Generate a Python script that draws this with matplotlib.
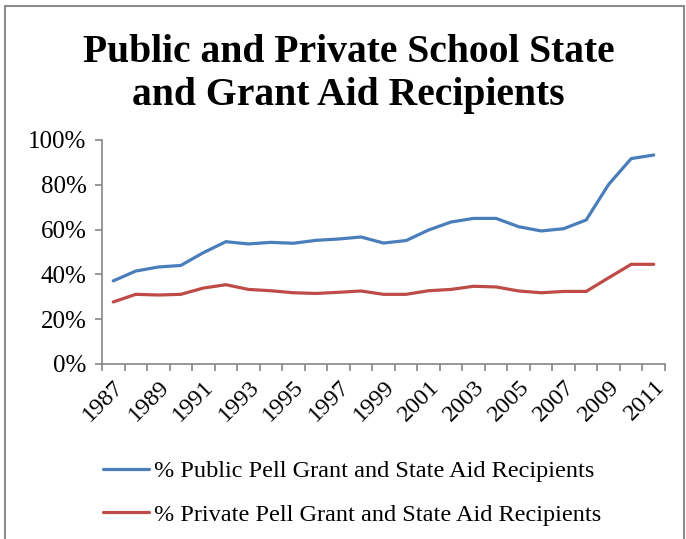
import matplotlib
matplotlib.use("Agg")
import matplotlib.pyplot as plt
from matplotlib.patches import Rectangle
from matplotlib.ticker import PercentFormatter, FixedLocator
import numpy as np

years = list(range(1987, 2012))
public_pct = [37.1, 41.5, 43.3, 44.0, 49.7, 54.6, 53.6, 54.3, 53.9, 55.2, 55.8, 56.7, 54.0,
              55.1, 59.8, 63.4, 65.0, 65.0, 61.3, 59.4, 60.4, 64.3, 80.2, 91.7, 93.3]
private_pct = [27.7, 31.1, 30.8, 31.1, 33.9, 35.4, 33.3, 32.7, 31.8, 31.5, 32.0, 32.6, 31.1,
               31.1, 32.7, 33.3, 34.7, 34.4, 32.6, 31.8, 32.4, 32.4, 38.5, 44.5, 44.5]
series_names = ["% Public Pell Grant and State Aid Recipients",
                "% Private Pell Grant and State Aid Recipients"]

plt.rcParams["font.family"] = ["Liberation Serif", "DejaVu Serif"]

W, H = 686, 539
fig = plt.figure(figsize=(W / 100, H / 100), dpi=100)

# outer chart frame (bottom edge falls outside the image)
fig.patches.append(Rectangle((5 / W, -0.05), 679 / W, 1 - 6 / H + 0.05,
                             transform=fig.transFigure, fill=False,
                             edgecolor="#8c8c8c", lw=1.5))

fig.text(0.508, 1 - 52 / H, "Public and Private School State", ha="center", va="center",
         fontsize=28.5, fontweight="bold")
fig.text(0.508, 1 - 95 / H, "and Grant Aid Recipients", ha="center", va="center",
         fontsize=28.5, fontweight="bold")

ax = fig.add_axes([102 / W, 1 - 364 / H, (665 - 102) / W, (364 - 140) / H])
x = np.arange(len(years))
l1, = ax.plot(x, public_pct, color="#4a7ebb", lw=2.3, solid_capstyle="round")
l2, = ax.plot(x, private_pct, color="#be4b48", lw=2.3, solid_capstyle="round")

ax.set_xlim(-0.5, len(years) - 0.5)
ax.set_ylim(0, 100)
ax.yaxis.set_major_locator(FixedLocator([0, 20, 40, 60, 80, 100]))
ax.yaxis.set_major_formatter(PercentFormatter(decimals=0))

# ticks sit between categories, labels on every other year
ax.xaxis.set_major_locator(FixedLocator(np.arange(-0.5, len(years), 1.0)))
ax.xaxis.set_major_formatter(plt.NullFormatter())
ax.set_xticks(x[::2], minor=True)
ax.set_xticklabels([str(y) for y in years[::2]], minor=True, rotation=45,
                   ha="right", va="top", rotation_mode="anchor")
ax.tick_params(axis="x", which="minor", length=0, pad=9, labelsize=17.5)
ax.tick_params(axis="x", which="major", length=5, color="#868686", width=1.2)
ax.tick_params(axis="y", length=5, color="#868686", width=1.2, labelsize=18, pad=6)

for s in ("top", "right"):
    ax.spines[s].set_visible(False)
for s in ("left", "bottom"):
    ax.spines[s].set_color("#868686")
    ax.spines[s].set_linewidth(1.2)

fig.legend([l1, l2], series_names, loc="upper left", bbox_to_anchor=(103 / W, 1 - 460 / H),
           frameon=False, fontsize=17.5, handlelength=1.9, handletextpad=0.2,
           labelspacing=0.9, borderpad=0, borderaxespad=0)

fig.savefig("out.png", dpi=100)
